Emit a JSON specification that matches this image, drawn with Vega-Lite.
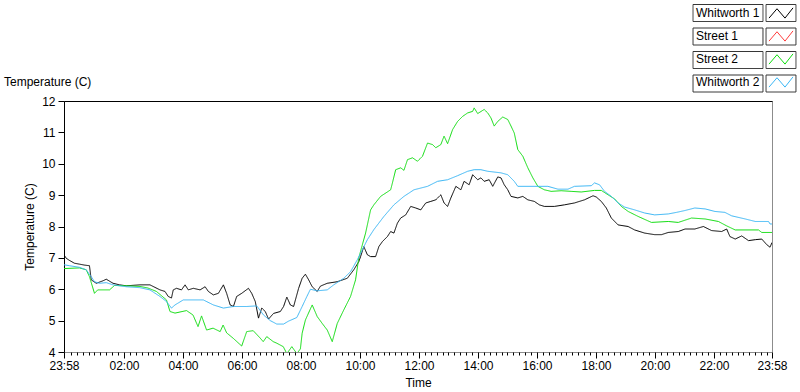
{
  "$schema": "https://vega.github.io/schema/vega-lite/v6.json",
  "width": 708,
  "height": 251,
  "autosize": {"type": "none"},
  "padding": {"left": 64, "top": 101, "right": 28, "bottom": 40},
  "background": "white",
  "config": {
    "font": "Liberation Sans",
    "view": {"stroke": "#8c8c8c", "strokeWidth": 1},
    "axis": {"labelFont": "Liberation Sans", "titleFont": "Liberation Sans", "labelFontSize": 12, "titleFontSize": 12, "titleFontWeight": "normal", "labelColor": "#000", "titleColor": "#000", "tickColor": "#000", "domainColor": "#000"}
  },
  "title": {"text": "Temperature (C)", "anchor": "start", "frame": "group", "dx": -60, "dy": 105, "fontSize": 12, "fontWeight": "normal", "font": "Liberation Sans", "color": "#000", "offset": 8, "baseline": "bottom"},
  "data": {"values": [
    {"series":"Whitworth 1","hour":-0.033,"temp":7.10},{"series":"Whitworth 1","hour":0.04,"temp":6.99},{"series":"Whitworth 1","hour":0.15,"temp":6.92},{"series":"Whitworth 1","hour":0.32,"temp":6.83},{"series":"Whitworth 1","hour":0.49,"temp":6.80},{"series":"Whitworth 1","hour":0.66,"temp":6.77},{"series":"Whitworth 1","hour":0.83,"temp":6.75},{"series":"Whitworth 1","hour":0.89,"temp":6.30},{"series":"Whitworth 1","hour":1.06,"temp":6.19},{"series":"Whitworth 1","hour":1.29,"temp":6.27},{"series":"Whitworth 1","hour":1.40,"temp":6.32},{"series":"Whitworth 1","hour":1.63,"temp":6.19},{"series":"Whitworth 1","hour":1.85,"temp":6.14},{"series":"Whitworth 1","hour":2.08,"temp":6.11},{"series":"Whitworth 1","hour":2.54,"temp":6.14},{"series":"Whitworth 1","hour":2.88,"temp":6.14},{"series":"Whitworth 1","hour":3.22,"temp":5.98},{"series":"Whitworth 1","hour":3.39,"temp":5.93},{"series":"Whitworth 1","hour":3.50,"temp":5.77},{"series":"Whitworth 1","hour":3.61,"temp":5.72},{"series":"Whitworth 1","hour":3.67,"temp":5.98},{"series":"Whitworth 1","hour":3.78,"temp":6.03},{"series":"Whitworth 1","hour":3.95,"temp":5.98},{"series":"Whitworth 1","hour":4.07,"temp":6.14},{"series":"Whitworth 1","hour":4.18,"temp":5.98},{"series":"Whitworth 1","hour":4.35,"temp":6.03},{"series":"Whitworth 1","hour":4.58,"temp":5.98},{"series":"Whitworth 1","hour":4.75,"temp":6.08},{"series":"Whitworth 1","hour":4.86,"temp":5.93},{"series":"Whitworth 1","hour":5.03,"temp":5.82},{"series":"Whitworth 1","hour":5.20,"temp":5.87},{"series":"Whitworth 1","hour":5.37,"temp":6.14},{"series":"Whitworth 1","hour":5.48,"temp":5.87},{"series":"Whitworth 1","hour":5.60,"temp":5.50},{"series":"Whitworth 1","hour":5.71,"temp":5.45},{"series":"Whitworth 1","hour":5.82,"temp":5.77},{"series":"Whitworth 1","hour":5.99,"temp":5.87},{"series":"Whitworth 1","hour":6.22,"temp":6.03},{"series":"Whitworth 1","hour":6.33,"temp":5.87},{"series":"Whitworth 1","hour":6.45,"temp":5.61},{"series":"Whitworth 1","hour":6.56,"temp":5.08},{"series":"Whitworth 1","hour":6.67,"temp":5.40},{"series":"Whitworth 1","hour":6.79,"temp":5.29},{"series":"Whitworth 1","hour":6.90,"temp":5.05},{"series":"Whitworth 1","hour":7.07,"temp":5.23},{"series":"Whitworth 1","hour":7.30,"temp":5.29},{"series":"Whitworth 1","hour":7.41,"temp":5.45},{"series":"Whitworth 1","hour":7.52,"temp":5.75},{"series":"Whitworth 1","hour":7.64,"temp":5.50},{"series":"Whitworth 1","hour":7.75,"temp":5.45},{"series":"Whitworth 1","hour":7.92,"temp":6.03},{"series":"Whitworth 1","hour":8.04,"temp":6.35},{"series":"Whitworth 1","hour":8.15,"temp":6.48},{"series":"Whitworth 1","hour":8.26,"temp":6.30},{"series":"Whitworth 1","hour":8.38,"temp":6.08},{"series":"Whitworth 1","hour":8.55,"temp":5.93},{"series":"Whitworth 1","hour":8.66,"temp":6.10},{"series":"Whitworth 1","hour":8.89,"temp":6.19},{"series":"Whitworth 1","hour":9.23,"temp":6.24},{"series":"Whitworth 1","hour":9.57,"temp":6.35},{"series":"Whitworth 1","hour":9.79,"temp":6.62},{"series":"Whitworth 1","hour":9.96,"temp":6.88},{"series":"Whitworth 1","hour":10.02,"temp":7.04},{"series":"Whitworth 1","hour":10.13,"temp":7.36},{"series":"Whitworth 1","hour":10.25,"temp":7.10},{"series":"Whitworth 1","hour":10.36,"temp":7.04},{"series":"Whitworth 1","hour":10.53,"temp":7.04},{"series":"Whitworth 1","hour":10.64,"temp":7.36},{"series":"Whitworth 1","hour":10.76,"temp":7.52},{"series":"Whitworth 1","hour":10.93,"temp":7.68},{"series":"Whitworth 1","hour":11.04,"temp":7.84},{"series":"Whitworth 1","hour":11.15,"temp":7.79},{"series":"Whitworth 1","hour":11.27,"temp":8.11},{"series":"Whitworth 1","hour":11.38,"temp":8.27},{"series":"Whitworth 1","hour":11.55,"temp":8.37},{"series":"Whitworth 1","hour":11.72,"temp":8.64},{"series":"Whitworth 1","hour":11.89,"temp":8.59},{"series":"Whitworth 1","hour":12.06,"temp":8.53},{"series":"Whitworth 1","hour":12.23,"temp":8.75},{"series":"Whitworth 1","hour":12.40,"temp":8.80},{"series":"Whitworth 1","hour":12.57,"temp":8.85},{"series":"Whitworth 1","hour":12.74,"temp":9.01},{"series":"Whitworth 1","hour":12.85,"temp":8.75},{"series":"Whitworth 1","hour":12.97,"temp":8.64},{"series":"Whitworth 1","hour":13.08,"temp":8.91},{"series":"Whitworth 1","hour":13.25,"temp":9.28},{"series":"Whitworth 1","hour":13.42,"temp":9.17},{"series":"Whitworth 1","hour":13.53,"temp":9.44},{"series":"Whitworth 1","hour":13.70,"temp":9.33},{"series":"Whitworth 1","hour":13.82,"temp":9.65},{"series":"Whitworth 1","hour":13.99,"temp":9.49},{"series":"Whitworth 1","hour":14.10,"temp":9.55},{"series":"Whitworth 1","hour":14.21,"temp":9.44},{"series":"Whitworth 1","hour":14.38,"temp":9.49},{"series":"Whitworth 1","hour":14.50,"temp":9.28},{"series":"Whitworth 1","hour":14.67,"temp":9.58},{"series":"Whitworth 1","hour":14.78,"temp":9.55},{"series":"Whitworth 1","hour":14.89,"temp":9.33},{"series":"Whitworth 1","hour":15.01,"temp":9.17},{"series":"Whitworth 1","hour":15.12,"temp":8.96},{"series":"Whitworth 1","hour":15.35,"temp":8.91},{"series":"Whitworth 1","hour":15.52,"temp":8.96},{"series":"Whitworth 1","hour":15.69,"temp":8.85},{"series":"Whitworth 1","hour":15.91,"temp":8.80},{"series":"Whitworth 1","hour":16.08,"temp":8.69},{"series":"Whitworth 1","hour":16.25,"temp":8.64},{"series":"Whitworth 1","hour":16.59,"temp":8.64},{"series":"Whitworth 1","hour":16.93,"temp":8.69},{"series":"Whitworth 1","hour":17.27,"temp":8.75},{"series":"Whitworth 1","hour":17.61,"temp":8.85},{"series":"Whitworth 1","hour":17.90,"temp":8.98},{"series":"Whitworth 1","hour":18.01,"temp":8.94},{"series":"Whitworth 1","hour":18.18,"temp":8.80},{"series":"Whitworth 1","hour":18.35,"temp":8.59},{"series":"Whitworth 1","hour":18.52,"temp":8.27},{"series":"Whitworth 1","hour":18.75,"temp":8.05},{"series":"Whitworth 1","hour":19.09,"temp":8.00},{"series":"Whitworth 1","hour":19.31,"temp":7.89},{"series":"Whitworth 1","hour":19.65,"temp":7.79},{"series":"Whitworth 1","hour":19.99,"temp":7.74},{"series":"Whitworth 1","hour":20.22,"temp":7.74},{"series":"Whitworth 1","hour":20.45,"temp":7.81},{"series":"Whitworth 1","hour":20.79,"temp":7.84},{"series":"Whitworth 1","hour":21.02,"temp":7.92},{"series":"Whitworth 1","hour":21.35,"temp":7.92},{"series":"Whitworth 1","hour":21.64,"temp":8.00},{"series":"Whitworth 1","hour":21.92,"temp":7.87},{"series":"Whitworth 1","hour":22.26,"temp":7.84},{"series":"Whitworth 1","hour":22.43,"temp":7.92},{"series":"Whitworth 1","hour":22.54,"temp":7.68},{"series":"Whitworth 1","hour":22.72,"temp":7.60},{"series":"Whitworth 1","hour":22.94,"temp":7.70},{"series":"Whitworth 1","hour":23.17,"temp":7.55},{"series":"Whitworth 1","hour":23.40,"temp":7.58},{"series":"Whitworth 1","hour":23.62,"temp":7.60},{"series":"Whitworth 1","hour":23.79,"temp":7.42},{"series":"Whitworth 1","hour":23.90,"temp":7.34},{"series":"Whitworth 1","hour":23.967,"temp":7.49},
    {"series":"Street 2","hour":-0.033,"temp":6.66},{"series":"Street 2","hour":0.49,"temp":6.68},{"series":"Street 2","hour":0.72,"temp":6.62},{"series":"Street 2","hour":0.83,"temp":6.40},{"series":"Street 2","hour":1.00,"temp":5.87},{"series":"Street 2","hour":1.11,"temp":5.98},{"series":"Street 2","hour":1.51,"temp":5.98},{"series":"Street 2","hour":1.68,"temp":6.12},{"series":"Street 2","hour":2.08,"temp":6.11},{"series":"Street 2","hour":2.54,"temp":6.09},{"series":"Street 2","hour":2.81,"temp":6.04},{"series":"Street 2","hour":3.10,"temp":5.93},{"series":"Street 2","hour":3.44,"temp":5.66},{"series":"Street 2","hour":3.56,"temp":5.29},{"series":"Street 2","hour":3.73,"temp":5.24},{"series":"Street 2","hour":4.12,"temp":5.32},{"series":"Street 2","hour":4.34,"temp":5.18},{"series":"Street 2","hour":4.51,"temp":4.81},{"series":"Street 2","hour":4.63,"temp":5.15},{"series":"Street 2","hour":4.80,"temp":4.70},{"series":"Street 2","hour":5.02,"temp":4.76},{"series":"Street 2","hour":5.26,"temp":4.65},{"series":"Street 2","hour":5.36,"temp":4.86},{"series":"Street 2","hour":5.48,"temp":4.61},{"series":"Street 2","hour":5.70,"temp":4.44},{"series":"Street 2","hour":5.99,"temp":4.19},{"series":"Street 2","hour":6.16,"temp":4.65},{"series":"Street 2","hour":6.38,"temp":4.68},{"series":"Street 2","hour":6.62,"temp":4.44},{"series":"Street 2","hour":6.72,"temp":4.33},{"series":"Street 2","hour":6.84,"temp":4.49},{"series":"Street 2","hour":7.06,"temp":4.33},{"series":"Street 2","hour":7.18,"temp":4.28},{"series":"Street 2","hour":7.40,"temp":4.17},{"series":"Street 2","hour":7.52,"temp":3.95},{"series":"Street 2","hour":7.69,"temp":4.17},{"series":"Street 2","hour":7.86,"temp":3.95},{"series":"Street 2","hour":7.98,"temp":4.10},{"series":"Street 2","hour":8.04,"temp":4.60},{"series":"Street 2","hour":8.15,"temp":5.02},{"series":"Street 2","hour":8.38,"temp":5.50},{"series":"Street 2","hour":8.55,"temp":5.13},{"series":"Street 2","hour":8.72,"temp":4.91},{"series":"Street 2","hour":8.89,"temp":4.70},{"series":"Street 2","hour":9.06,"temp":4.33},{"series":"Street 2","hour":9.23,"temp":4.91},{"series":"Street 2","hour":9.45,"temp":5.34},{"series":"Street 2","hour":9.68,"temp":5.77},{"series":"Street 2","hour":9.85,"temp":6.30},{"series":"Street 2","hour":9.96,"temp":7.00},{"series":"Street 2","hour":10.09,"temp":7.45},{"series":"Street 2","hour":10.19,"temp":7.79},{"series":"Street 2","hour":10.36,"temp":8.53},{"series":"Street 2","hour":10.47,"temp":8.69},{"series":"Street 2","hour":10.70,"temp":8.96},{"series":"Street 2","hour":11.04,"temp":9.17},{"series":"Street 2","hour":11.10,"temp":9.39},{"series":"Street 2","hour":11.21,"temp":9.81},{"series":"Street 2","hour":11.38,"temp":9.87},{"series":"Street 2","hour":11.49,"temp":9.79},{"series":"Street 2","hour":11.61,"temp":10.13},{"series":"Street 2","hour":11.78,"temp":10.19},{"series":"Street 2","hour":11.95,"temp":10.08},{"series":"Street 2","hour":12.12,"temp":10.24},{"series":"Street 2","hour":12.29,"temp":10.66},{"series":"Street 2","hour":12.46,"temp":10.61},{"series":"Street 2","hour":12.57,"temp":10.51},{"series":"Street 2","hour":12.74,"temp":10.61},{"series":"Street 2","hour":12.85,"temp":10.88},{"series":"Street 2","hour":12.97,"temp":10.64},{"series":"Street 2","hour":13.14,"temp":11.09},{"series":"Street 2","hour":13.31,"temp":11.35},{"series":"Street 2","hour":13.48,"temp":11.51},{"series":"Street 2","hour":13.65,"temp":11.62},{"series":"Street 2","hour":13.82,"temp":11.67},{"series":"Street 2","hour":13.87,"temp":11.78},{"series":"Street 2","hour":13.99,"temp":11.60},{"series":"Street 2","hour":14.21,"temp":11.73},{"series":"Street 2","hour":14.33,"temp":11.62},{"series":"Street 2","hour":14.44,"temp":11.46},{"series":"Street 2","hour":14.55,"temp":11.20},{"series":"Street 2","hour":14.67,"temp":11.35},{"series":"Street 2","hour":14.84,"temp":11.49},{"series":"Street 2","hour":15.01,"temp":11.41},{"series":"Street 2","hour":15.12,"temp":11.20},{"series":"Street 2","hour":15.23,"temp":10.98},{"series":"Street 2","hour":15.35,"temp":10.45},{"series":"Street 2","hour":15.52,"temp":10.24},{"series":"Street 2","hour":15.69,"temp":9.87},{"series":"Street 2","hour":15.86,"temp":9.55},{"series":"Street 2","hour":16.03,"temp":9.28},{"series":"Street 2","hour":16.25,"temp":9.17},{"series":"Street 2","hour":16.48,"temp":9.12},{"series":"Street 2","hour":16.82,"temp":9.14},{"series":"Street 2","hour":17.16,"temp":9.12},{"series":"Street 2","hour":17.50,"temp":9.10},{"series":"Street 2","hour":17.95,"temp":9.15},{"series":"Street 2","hour":18.18,"temp":9.15},{"series":"Street 2","hour":18.41,"temp":9.01},{"series":"Street 2","hour":18.63,"temp":8.88},{"series":"Street 2","hour":18.86,"temp":8.64},{"series":"Street 2","hour":19.09,"temp":8.48},{"series":"Street 2","hour":19.43,"temp":8.32},{"series":"Street 2","hour":19.88,"temp":8.13},{"series":"Street 2","hour":20.45,"temp":8.16},{"series":"Street 2","hour":20.79,"temp":8.13},{"series":"Street 2","hour":21.24,"temp":8.27},{"series":"Street 2","hour":21.70,"temp":8.24},{"series":"Street 2","hour":22.15,"temp":8.16},{"series":"Street 2","hour":22.43,"temp":8.02},{"series":"Street 2","hour":22.72,"temp":7.89},{"series":"Street 2","hour":23.51,"temp":7.89},{"series":"Street 2","hour":23.62,"temp":7.81},{"series":"Street 2","hour":23.967,"temp":7.81},
    {"series":"Whitworth 2","hour":-0.033,"temp":6.78},{"series":"Whitworth 2","hour":0.15,"temp":6.75},{"series":"Whitworth 2","hour":0.49,"temp":6.70},{"series":"Whitworth 2","hour":0.72,"temp":6.62},{"series":"Whitworth 2","hour":0.89,"temp":6.40},{"series":"Whitworth 2","hour":1.00,"temp":6.24},{"series":"Whitworth 2","hour":1.17,"temp":6.19},{"series":"Whitworth 2","hour":1.40,"temp":6.21},{"series":"Whitworth 2","hour":1.63,"temp":6.14},{"series":"Whitworth 2","hour":2.08,"temp":6.08},{"series":"Whitworth 2","hour":2.54,"temp":6.05},{"series":"Whitworth 2","hour":2.88,"temp":5.98},{"series":"Whitworth 2","hour":3.22,"temp":5.77},{"series":"Whitworth 2","hour":3.44,"temp":5.61},{"series":"Whitworth 2","hour":3.61,"temp":5.40},{"series":"Whitworth 2","hour":3.73,"temp":5.50},{"series":"Whitworth 2","hour":4.01,"temp":5.66},{"series":"Whitworth 2","hour":4.69,"temp":5.66},{"series":"Whitworth 2","hour":5.03,"temp":5.50},{"series":"Whitworth 2","hour":5.37,"temp":5.40},{"series":"Whitworth 2","hour":5.71,"temp":5.45},{"series":"Whitworth 2","hour":6.16,"temp":5.45},{"series":"Whitworth 2","hour":6.50,"temp":5.47},{"series":"Whitworth 2","hour":6.73,"temp":5.18},{"series":"Whitworth 2","hour":6.96,"temp":5.00},{"series":"Whitworth 2","hour":7.18,"temp":4.89},{"series":"Whitworth 2","hour":7.41,"temp":4.89},{"series":"Whitworth 2","hour":7.57,"temp":4.98},{"series":"Whitworth 2","hour":7.86,"temp":5.10},{"series":"Whitworth 2","hour":8.04,"temp":5.45},{"series":"Whitworth 2","hour":8.20,"temp":5.77},{"series":"Whitworth 2","hour":8.32,"temp":6.00},{"series":"Whitworth 2","hour":8.55,"temp":5.95},{"series":"Whitworth 2","hour":8.89,"temp":5.98},{"series":"Whitworth 2","hour":9.11,"temp":6.14},{"series":"Whitworth 2","hour":9.45,"temp":6.35},{"series":"Whitworth 2","hour":9.68,"temp":6.56},{"series":"Whitworth 2","hour":9.91,"temp":6.94},{"series":"Whitworth 2","hour":10.25,"temp":7.58},{"series":"Whitworth 2","hour":10.47,"temp":7.90},{"series":"Whitworth 2","hour":10.81,"temp":8.32},{"series":"Whitworth 2","hour":11.15,"temp":8.69},{"series":"Whitworth 2","hour":11.49,"temp":8.96},{"series":"Whitworth 2","hour":11.83,"temp":9.17},{"series":"Whitworth 2","hour":12.29,"temp":9.28},{"series":"Whitworth 2","hour":12.63,"temp":9.44},{"series":"Whitworth 2","hour":12.97,"temp":9.49},{"series":"Whitworth 2","hour":13.31,"temp":9.62},{"series":"Whitworth 2","hour":13.65,"temp":9.76},{"series":"Whitworth 2","hour":13.87,"temp":9.81},{"series":"Whitworth 2","hour":14.10,"temp":9.81},{"series":"Whitworth 2","hour":14.33,"temp":9.76},{"series":"Whitworth 2","hour":14.78,"temp":9.71},{"series":"Whitworth 2","hour":15.01,"temp":9.65},{"series":"Whitworth 2","hour":15.23,"temp":9.44},{"series":"Whitworth 2","hour":15.35,"temp":9.28},{"series":"Whitworth 2","hour":16.37,"temp":9.28},{"series":"Whitworth 2","hour":16.71,"temp":9.19},{"series":"Whitworth 2","hour":17.05,"temp":9.19},{"series":"Whitworth 2","hour":17.27,"temp":9.28},{"series":"Whitworth 2","hour":17.84,"temp":9.30},{"series":"Whitworth 2","hour":17.95,"temp":9.39},{"series":"Whitworth 2","hour":18.12,"temp":9.33},{"series":"Whitworth 2","hour":18.29,"temp":9.12},{"series":"Whitworth 2","hour":18.52,"temp":8.96},{"series":"Whitworth 2","hour":18.75,"temp":8.75},{"series":"Whitworth 2","hour":18.97,"temp":8.62},{"series":"Whitworth 2","hour":19.31,"temp":8.53},{"series":"Whitworth 2","hour":19.65,"temp":8.43},{"series":"Whitworth 2","hour":19.99,"temp":8.37},{"series":"Whitworth 2","hour":20.45,"temp":8.40},{"series":"Whitworth 2","hour":20.73,"temp":8.45},{"series":"Whitworth 2","hour":21.02,"temp":8.51},{"series":"Whitworth 2","hour":21.35,"temp":8.59},{"series":"Whitworth 2","hour":21.70,"temp":8.56},{"series":"Whitworth 2","hour":22.03,"temp":8.48},{"series":"Whitworth 2","hour":22.37,"temp":8.45},{"series":"Whitworth 2","hour":22.60,"temp":8.34},{"series":"Whitworth 2","hour":23.06,"temp":8.24},{"series":"Whitworth 2","hour":23.40,"temp":8.16},{"series":"Whitworth 2","hour":23.85,"temp":8.16},{"series":"Whitworth 2","hour":23.90,"temp":8.08},{"series":"Whitworth 2","hour":23.967,"temp":8.08}
  ]},
  "mark": {"type": "line", "strokeWidth": 1, "clip": true, "interpolate": "linear"},
  "encoding": {
    "x": {
      "field": "hour", "type": "quantitative",
      "scale": {"domain": [-0.0333, 23.9667], "nice": false, "zero": false},
      "axis": {
        "title": "Time",
        "values": [-0.0333,0.2,0.4,0.6,0.8,1,1.2,1.4,1.6,1.8,2,2.2,2.4,2.6,2.8,3,3.2,3.4,3.6,3.8,4,4.2,4.4,4.6,4.8,5,5.2,5.4,5.6,5.8,6,6.2,6.4,6.6,6.8,7,7.2,7.4,7.6,7.8,8,8.2,8.4,8.6,8.8,9,9.2,9.4,9.6,9.8,10,10.2,10.4,10.6,10.8,11,11.2,11.4,11.6,11.8,12,12.2,12.4,12.6,12.8,13,13.2,13.4,13.6,13.8,14,14.2,14.4,14.6,14.8,15,15.2,15.4,15.6,15.8,16,16.2,16.4,16.6,16.8,17,17.2,17.4,17.6,17.8,18,18.2,18.4,18.6,18.8,19,19.2,19.4,19.6,19.8,20,20.2,20.4,20.6,20.8,21,21.2,21.4,21.6,21.8,22,22.2,22.4,22.6,22.8,23,23.2,23.4,23.6,23.8,23.9667],
        "labelExpr": "datum.value < 0 || datum.value > 23.9 ? '23:58' : (abs(datum.value - round(datum.value / 2) * 2) < 0.01 ? (datum.value < 10 ? '0' : '') + round(datum.value) + ':00' : '')",
        "tickSize": {"condition": {"test": "datum.value < 0 || datum.value > 23.9 || abs(datum.value - round(datum.value / 2) * 2) < 0.01", "value": 6}, "value": 3},
        "domain": false, "grid": false, "labelFlush": false, "labelOverlap": false, "labelBound": false,
        "labelPadding": 2, "titlePadding": 6
      }
    },
    "y": {
      "field": "temp", "type": "quantitative",
      "scale": {"domain": [4, 12], "nice": false, "zero": false},
      "axis": {
        "title": "Temperature (C)", "values": [4,5,6,7,8,9,10,11,12],
        "tickSize": 6, "labelPadding": 3, "titlePadding": 5,
        "grid": true,
        "gridColor": {"condition": {"test": "datum.value == 12", "value": "#000000"}, "value": "transparent"},
        "domainColor": "#000"
      }
    },
    "color": {
      "field": "series", "type": "nominal",
      "scale": {"domain": ["Whitworth 1", "Street 1", "Street 2", "Whitworth 2"], "range": ["#000000", "#ff3c3c", "#10dd10", "#3ab6f5"]},
      "legend": {
        "orient": "none", "legendX": 708, "legendY": -97, "title": null,
        "symbolType": "M-1.41,0.6L-0.47,-0.5L0.47,0.6L1.41,-0.6",
        "symbolSize": 289, "symbolStrokeWidth": 1, "symbolFillColor": "transparent",
        "labelOffset": -94, "labelFontSize": 12, "labelFont": "Liberation Sans", "labelColor": "#000",
        "rowPadding": 6, "padding": 0
      }
    },
    "strokeDash": {
      "field": "series", "type": "nominal",
      "scale": {"domain": ["Whitworth 2", "Street 2", "Street 1", "Whitworth 1"], "range": [[1,0],[1,0],[1,0],[1,0]]},
      "legend": {
        "orient": "none", "legendX": 708, "legendY": -97, "title": null,
        "symbolType": "M-10.35,-1H-2.12V1H-10.35Z M-1.76,-1H1.76V1H-1.76Z",
        "symbolSize": 289, "symbolStrokeWidth": 1, "symbolStrokeColor": "#333333", "symbolFillColor": "transparent",
        "labelExpr": "''", "rowPadding": 1.5, "padding": 0
      }
    }
  }
}
